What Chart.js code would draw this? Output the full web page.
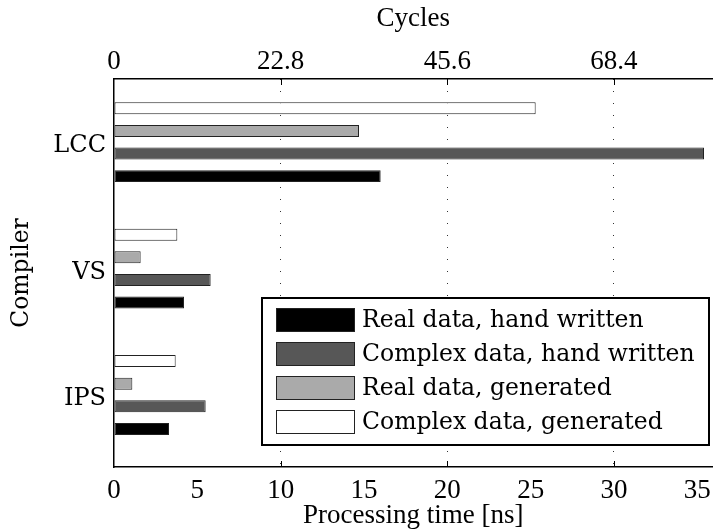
<!DOCTYPE html>
<html>
<head>
<meta charset="utf-8">
<script src="https://cdn.jsdelivr.net/npm/chart.js@4.4.0/dist/chart.umd.min.js"></script>
<style>
  html, body { margin: 0; padding: 0; background: #fff; }
  #contenedor { width: 719px; height: 529px; }
</style>
</head>
<body>
<div id="contenedor"><canvas id="grafica"></canvas></div>
<script>
// Datos (tiempo en ns)
const compiladores = ['LCC', 'VS', 'IPS'];
const nombresSeries = ['Complex data, generated', 'Real data, generated', 'Complex data, hand written', 'Real data, hand written'];
const complexGenerated = [25.3, 3.8, 3.7];
const realGenerated = [14.7, 1.6, 1.1];
const complexHand = [35.4, 5.8, 5.5];
const realHand = [16.0, 4.2, 3.3];
const ticksCiclos = ['0', '22.8', '45.6', '68.4'];
const coloresSeries = ['#ffffff', '#aaaaaa', '#575757', '#000000'];

const fuenteTicks = { family: 'Liberation Serif', size: 27 };
const fuenteTexto = { family: 'DejaVu Serif', size: 23.5 };
const fuenteCategorias = { family: 'DejaVu Serif', size: 24 };

function armarDataset(nombre, valores, color) {
    return {
        label: nombre,
        data: valores.map((v, i) => ({ x: v, y: i })),
        backgroundColor: color,
        borderColor: '#222',
        borderWidth: 1,
        borderSkipped: false,
        categoryPercentage: 0.716,
        barPercentage: 0.53
    };
}

// Leyenda dentro del área de la gráfica, abajo a la derecha
const leyendaCaja = {
    id: 'leyendaCaja',
    afterDraw(chart) {
        const ctx = chart.ctx;
        const x0 = 262, y0 = 298, ancho = 447, alto = 147;
        ctx.save();
        ctx.fillStyle = '#fff';
        ctx.fillRect(x0, y0, ancho, alto);
        ctx.lineWidth = 2;
        ctx.strokeStyle = '#000';
        ctx.strokeRect(x0, y0, ancho, alto);
        const sets = chart.data.datasets.slice().reverse();
        ctx.font = `${fuenteTexto.size}px "${fuenteTexto.family}"`;
        ctx.textBaseline = 'middle';
        sets.forEach((ds, i) => {
            const y = y0 + 22 + i * 34;
            ctx.fillStyle = ds.backgroundColor;
            ctx.fillRect(276, y - 12, 79, 24);
            ctx.lineWidth = 1;
            ctx.strokeStyle = '#222';
            ctx.strokeRect(276.5, y - 11.5, 78, 23);
            ctx.fillStyle = '#000';
            ctx.fillText(ds.label, 362, y + 1);
        });
        ctx.restore();
    }
};

// Marcas de ticks hacia adentro
const ticksInternos = {
    id: 'ticksInternos',
    afterDatasetsDraw(chart) {
        const ctx = chart.ctx;
        const area = chart.chartArea;
        const escala = chart.scales.x;
        ctx.save();
        ctx.strokeStyle = '#000';
        ctx.lineWidth = 1;
        [10, 20, 30].forEach(v => {
            const px = Math.round(escala.getPixelForValue(v)) + 0.5;
            ctx.beginPath();
            ctx.moveTo(px, area.bottom);
            ctx.lineTo(px, area.bottom - 6);
            ctx.moveTo(px, area.top);
            ctx.lineTo(px, area.top + 6);
            ctx.stroke();
        });
        ctx.restore();
    }
};

const ctx = document.getElementById('grafica').getContext('2d');
new Chart(ctx, {
    type: 'bar',
    data: {
        datasets: [
            armarDataset(nombresSeries[0], complexGenerated, coloresSeries[0]),
            armarDataset(nombresSeries[1], realGenerated, coloresSeries[1]),
            armarDataset(nombresSeries[2], complexHand, coloresSeries[2]),
            armarDataset(nombresSeries[3], realHand, coloresSeries[3])
        ]
    },
    options: {
        indexAxis: 'y',
        responsive: true,
        maintainAspectRatio: false,
        animation: false,
        layout: { padding: 0 },
        plugins: { legend: { display: false }, tooltip: { enabled: false } },
        scales: {
            y: {
                type: 'linear',
                reverse: true,
                offset: false,
                min: -0.5,
                max: 2.57,
                afterFit: s => { s.width = 114; },
                ticks: {
                    stepSize: 1,
                    includeBounds: false,
                    font: fuenteCategorias,
                    color: '#000',
                    padding: 8,
                    labelOffset: 4,
                    callback: v => (Number.isInteger(v) && compiladores[v]) ? compiladores[v] : ''
                },
                grid: { display: false, drawTicks: false },
                border: { display: true, color: '#000', width: 1.5 },
                title: { display: true, text: 'Compiler', font: fuenteTexto, color: '#000', padding: { top: 8, bottom: 0 } }
            },
            x: {
                type: 'linear',
                position: 'bottom',
                min: 0,
                max: 35.9,
                afterFit: s => { s.height = 62; },
                ticks: { stepSize: 5, includeBounds: false, font: fuenteTicks, color: '#000', padding: 8 },
                grid: {
                    drawTicks: false,
                    lineWidth: 1,
                    color: c => (c.tick && c.tick.value > 0 && c.tick.value % 10 === 0) ? '#333' : 'rgba(0,0,0,0)'
                },
                border: { display: true, color: '#000', width: 1.5, dash: [1, 11] },
                title: { display: true, text: 'Processing time [ns]', font: fuenteTicks, color: '#000', padding: { top: 0, bottom: -3 } }
            },
            x2: {
                type: 'linear',
                position: 'top',
                min: 0,
                max: 35.9,
                afterFit: s => { s.height = 79; },
                ticks: {
                    stepSize: 10,
                    includeBounds: false,
                    font: fuenteTicks,
                    color: '#000',
                    padding: 1,
                    callback: (v, i) => ticksCiclos[i] !== undefined ? ticksCiclos[i] : ''
                },
                grid: { display: false, drawTicks: false },
                border: { display: true, color: '#000', width: 1.5 },
                title: { display: true, text: 'Cycles', font: fuenteTicks, color: '#000', padding: { top: 3, bottom: 0 } }
            }
        }
    },
    plugins: [ticksInternos, leyendaCaja]
});
</script>
</body>
</html>
